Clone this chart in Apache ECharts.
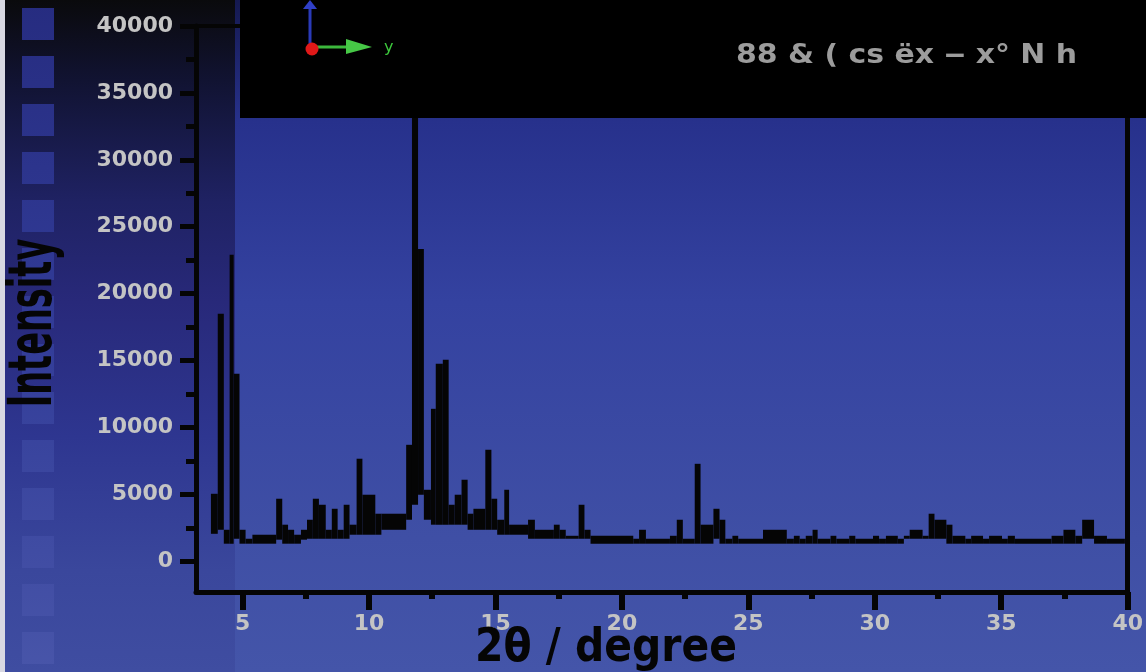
<!DOCTYPE html>
<html><head><meta charset="utf-8">
<script src="https://cdn.jsdelivr.net/npm/echarts@6/dist/echarts.min.js"></script>
<style>html,body{margin:0;padding:0;background:#000;}#c{width:1146px;height:672px;}</style>
</head><body><div id="c"></div>
<script>
// 2θ bin edges (degree), and the lower / upper intensity of each bin (counts)
const edges = [3.75,4.02,4.26,4.49,4.65,4.88,5.12,5.39,6.33,6.57,6.80,7.04,7.31,7.55,7.78,8.02,8.29,8.53,8.76,9.00,
  9.23,9.51,9.74,10.25,10.49,11.47,11.70,11.94,12.17,12.45,12.64,12.92,13.15,13.39,13.66,13.90,14.13,14.60,14.84,15.07,
  15.35,15.54,16.29,16.56,17.31,17.54,17.78,18.29,18.52,18.76,20.45,20.68,20.95,21.90,22.17,22.41,22.88,23.11,23.62,23.86,
  24.09,24.37,24.60,25.58,26.52,26.80,27.03,27.27,27.54,27.74,28.25,28.48,28.99,29.23,29.93,30.17,30.44,30.91,31.15,31.38,
  31.89,32.13,32.36,32.83,33.07,33.58,33.81,34.28,34.52,35.03,35.26,35.54,36.99,37.46,37.93,38.20,38.67,39.18,39.89];
const upper = [5040,18490,2350,22900,14010,2350,1680,1980,4670,2730,2350,1980,2350,3100,4670,4220,2350,3920,2350,4220,
  2730,7660,4970,3550,3550,8700,38500,23340,5340,11390,14750,15050,4220,4970,6090,3550,3920,8330,4670,3100,
  5340,2730,3100,2350,2730,2350,1900,4220,2350,1900,1680,2350,1680,1900,3100,1680,7280,2730,3920,3100,
  1680,1900,1680,2350,1680,1900,1680,1900,2350,1680,1900,1680,1900,1680,1900,1680,1900,1680,1900,2350,
  1900,3550,3100,2730,1900,1680,1900,1680,1900,1680,1900,1680,1900,2350,1900,3100,1900,1680];
const lower = [2050,2350,1310,1310,1680,1310,1310,1310,1610,1310,1310,1310,1610,1680,1680,1680,1680,1680,1680,1680,
  1980,1980,1980,1980,2350,3100,4220,4970,3100,2730,2730,2730,2730,2730,2730,2350,2350,2350,2350,1980,
  1980,1980,1680,1680,1680,1680,1680,1680,1680,1310,1310,1310,1310,1310,1310,1310,1310,1310,1680,1310,
  1310,1310,1310,1310,1310,1310,1310,1310,1310,1310,1310,1310,1310,1310,1310,1310,1310,1310,1680,1680,
  1680,1680,1680,1310,1310,1310,1310,1310,1310,1310,1310,1310,1310,1310,1310,1680,1310,1310];

const yTicks = [0,5000,10000,15000,20000,25000,30000,35000,40000];
const yTickLabels = ['0','5000','10000','15000','20000','25000','30000','35000','40000'];
const yMinorTicks = [2500,7500,12500,17500,22500,27500,32500,37500];
const xTicks = [5,10,15,20,25,30,35,40];
const xTickLabels = ['5','10','15','20','25','30','35','40'];
const xMinorTicks = [7.5,12.5,17.5,22.5,27.5,32.5,37.5];

const xName = '2θ / degree';
const yName = 'Intensity';
const boxText = '88 & ( cs ëx ‒ x° N h';

const bins = upper.map((u, i) => [edges[i], edges[i + 1], lower[i], u]);

const chart = echarts.init(document.getElementById('c'), null, {renderer: 'canvas'});
const G = echarts.graphic.LinearGradient;
const FONT = '"DejaVu Sans", sans-serif';
const XMIN = 3.16, XMAX = 40, YMIN = -2300, YMAX = 40000;
const black = '#050505';

const squares = [];
for (let k = 0; k < 14; k++) {
  squares.push({type: 'rect', z: -9, shape: {x: 22, y: 8 + 48 * k, width: 32, height: 32},
    style: {fill: new G(0, 0, 0, 672, [{offset: 0, color: '#262c80'}, {offset: 0.5, color: '#323c98'}, {offset: 1, color: '#4855a9'}], true)}});
}

chart.setOption({
  backgroundColor: 'transparent',
  animation: false,
  grid: {left: 196, right: 10, top: 26, bottom: 80, containLabel: false},
  graphic: [
    {type: 'rect', z: -10, shape: {x: 0, y: 0, width: 1146, height: 672},
      style: {fill: new G(0, 0, 0, 672, [{offset: 0, color: '#151950'}, {offset: 0.18, color: '#27318c'}, {offset: 0.45, color: '#3442a0'}, {offset: 0.8, color: '#3f4fa5'}, {offset: 1, color: '#4455a9'}], true)}},
    {type: 'rect', z: -10, shape: {x: 0, y: 0, width: 235, height: 672},
      style: {fill: new G(0, 0, 0, 672, [{offset: 0, color: '#0a0a0c'}, {offset: 0.12, color: '#111332'}, {offset: 0.3, color: '#1f2263'}, {offset: 0.45, color: '#28297a'}, {offset: 0.65, color: '#2e3690'}, {offset: 0.85, color: '#3a479c'}, {offset: 1, color: '#3f4da1'}], true)}},
    ...squares,
    {type: 'rect', z: -8, shape: {x: 0, y: 0, width: 5, height: 672}, style: {fill: '#d8d8e2'}},
    // top black panel with orientation gizmo
    {type: 'rect', z: 100, shape: {x: 240, y: 0, width: 906, height: 118}, style: {fill: '#000'}},
    {type: 'line', z: 101, shape: {x1: 310, y1: 6, x2: 310, y2: 44}, style: {stroke: '#2a3ab8', lineWidth: 3}},
    {type: 'polygon', z: 101, shape: {points: [[303, 9], [317, 9], [310, 0]]}, style: {fill: '#3040c8'}},
    {type: 'line', z: 101, shape: {x1: 316, y1: 47, x2: 350, y2: 47}, style: {stroke: '#3cb83c', lineWidth: 3}},
    {type: 'polygon', z: 101, shape: {points: [[346, 39], [346, 54], [372, 47]]}, style: {fill: '#46c846'}},
    {type: 'circle', z: 102, shape: {cx: 312, cy: 49, r: 6.5}, style: {fill: '#e01818'}},
    {type: 'text', z: 101, x: 384, y: 48, style: {text: 'y', fill: '#3cc83c', font: '16px ' + FONT, verticalAlign: 'middle'}},
    {type: 'text', z: 101, x: 736, y: 56, scaleX: 1.15, style: {text: boxText, fill: '#9c9c9c', font: 'bold 26px ' + FONT, verticalAlign: 'middle'}},
    // axis names
    {type: 'text', z: 50, x: 606, y: 649, scaleX: 0.89, style: {text: xName, fill: black, font: 'bold 46px ' + FONT, align: 'center', verticalAlign: 'middle'}},
    {type: 'text', z: 50, x: 35, y: 323, rotation: Math.PI / 2, scaleX: 0.56, style: {text: yName, fill: black, font: 'bold 60px ' + FONT, align: 'center', verticalAlign: 'middle'}}
  ],
  xAxis: [
    {type: 'value', min: XMIN, max: XMAX, position: 'bottom', splitLine: {show: false},
      axisLine: {show: true, onZero: false, lineStyle: {color: black, width: 5}},
      axisTick: {show: true, customValues: xTicks, length: 18, lineStyle: {color: black, width: 6}},
      axisLabel: {show: true, customValues: xTicks, margin: 21, color: '#c4c4c4', fontWeight: 'bold', fontSize: 22, fontFamily: FONT,
        formatter: v => xTickLabels[xTicks.indexOf(v)]}},
    {type: 'value', min: XMIN, max: XMAX, position: 'bottom', splitLine: {show: false},
      axisLine: {show: false, onZero: false},
      axisTick: {show: true, customValues: xMinorTicks, length: 7, lineStyle: {color: black, width: 6}},
      axisLabel: {show: false}},
    {type: 'value', min: XMIN, max: XMAX, position: 'top', splitLine: {show: false},
      axisLine: {show: true, onZero: false, lineStyle: {color: black, width: 4}},
      axisTick: {show: false}, axisLabel: {show: false}}
  ],
  yAxis: [
    {type: 'value', min: YMIN, max: YMAX, position: 'left', splitLine: {show: false},
      axisLine: {show: true, onZero: false, lineStyle: {color: black, width: 5}},
      axisTick: {show: true, customValues: yTicks, length: 16, lineStyle: {color: black, width: 5}},
      axisLabel: {show: true, customValues: yTicks, margin: 23, color: '#c4c4c4', fontWeight: 'bold', fontSize: 22, fontFamily: FONT,
        formatter: v => yTickLabels[yTicks.indexOf(v)]}},
    {type: 'value', min: YMIN, max: YMAX, position: 'left', splitLine: {show: false},
      axisLine: {show: false, onZero: false},
      axisTick: {show: true, customValues: yMinorTicks, length: 10, lineStyle: {color: black, width: 5}},
      axisLabel: {show: false}},
    {type: 'value', min: YMIN, max: YMAX, position: 'right', splitLine: {show: false},
      axisLine: {show: true, onZero: false, lineStyle: {color: black, width: 5}},
      axisTick: {show: false}, axisLabel: {show: false}}
  ],
  series: [{
    type: 'custom', xAxisIndex: 0, yAxisIndex: 0, clip: true,
    encode: {x: [0, 1], y: [2, 3]},
    data: bins,
    renderItem: (params, api) => {
      const p0 = api.coord([api.value(0), api.value(3)]);
      const p1 = api.coord([api.value(1), api.value(2)]);
      return {type: 'rect', shape: {x: p0[0], y: p0[1], width: p1[0] - p0[0], height: p1[1] - p0[1]}, style: {fill: black}};
    }
  }]
});
</script></body></html>
